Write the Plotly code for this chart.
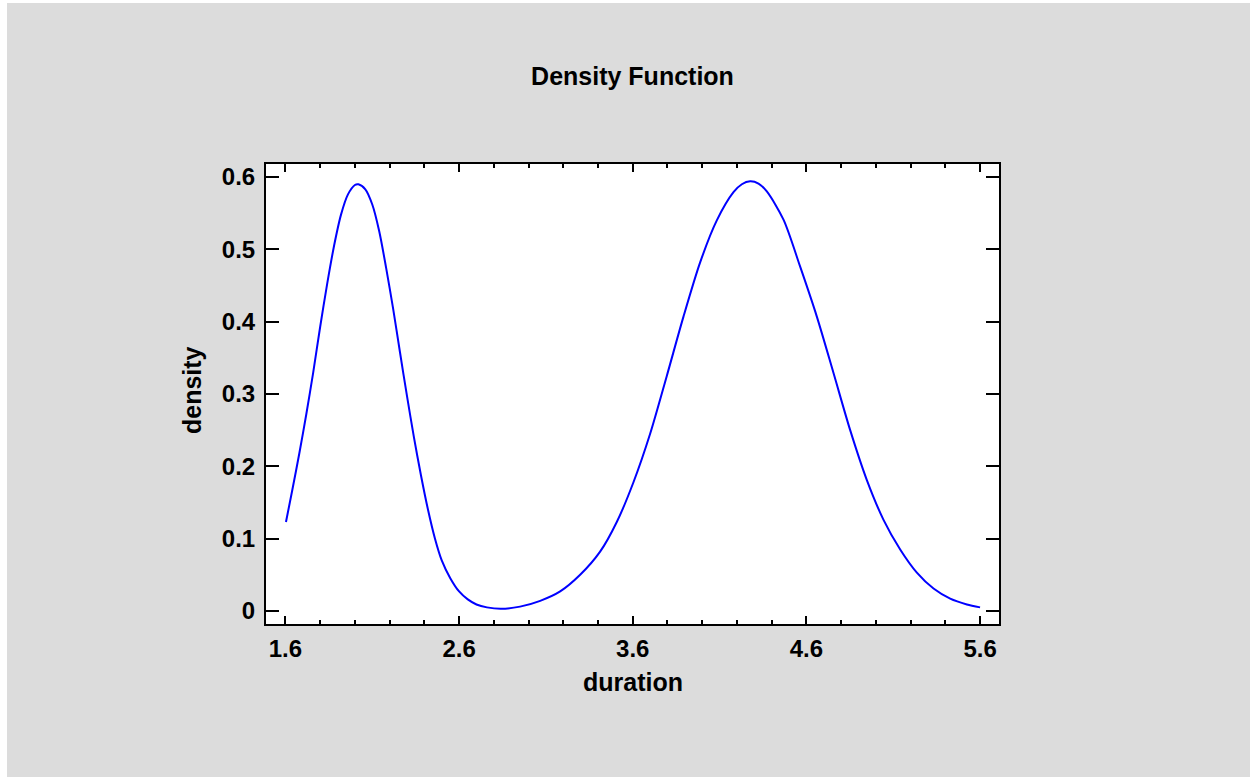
import plotly.graph_objects as go

# Density curve
duration = [1.603, 1.640, 1.680, 1.720, 1.760, 1.800, 1.840, 1.880, 1.920, 1.960,
            2.000, 2.020, 2.060, 2.100, 2.140, 2.180, 2.220, 2.260, 2.300, 2.340,
            2.380, 2.420, 2.460, 2.500, 2.550, 2.600, 2.650, 2.700, 2.760, 2.840,
            2.951, 3.067, 3.182, 3.297, 3.412, 3.508, 3.604, 3.700, 3.796, 3.892,
            3.988, 4.084, 4.180, 4.228, 4.276, 4.324, 4.372, 4.468, 4.564, 4.660,
            4.756, 4.852, 4.948, 5.044, 5.140, 5.236, 5.332, 5.428, 5.524, 5.600]
density = [0.123, 0.168, 0.218, 0.272, 0.330, 0.393, 0.452, 0.505, 0.548, 0.576,
           0.589, 0.590, 0.583, 0.562, 0.525, 0.474, 0.418, 0.357, 0.297, 0.240,
           0.188, 0.141, 0.101, 0.070, 0.045, 0.027, 0.016, 0.009, 0.005, 0.003,
           0.006, 0.014, 0.027, 0.050, 0.082, 0.123, 0.178, 0.245, 0.325, 0.407,
           0.482, 0.540, 0.579, 0.590, 0.594, 0.591, 0.580, 0.541, 0.476, 0.407,
           0.329, 0.250, 0.181, 0.126, 0.085, 0.053, 0.031, 0.017, 0.009, 0.005]

x_ticks = [1.6, 2.6, 3.6, 4.6, 5.6]
x_tick_labels = ["1.6", "2.6", "3.6", "4.6", "5.6"]
y_ticks = [0, 0.1, 0.2, 0.3, 0.4, 0.5, 0.6]
y_tick_labels = ["0", "0.1", "0.2", "0.3", "0.4", "0.5", "0.6"]

W, H = 1250, 777
L, R, T, B = 266, 999, 164, 624  # plot area in px
FONT = "Liberation Sans, Arial, sans-serif"

fig = go.Figure()
fig.add_trace(go.Scatter(
    x=duration, y=density, mode="lines",
    line=dict(color="#0000FF", width=2, shape="spline", smoothing=0.8),
    showlegend=False, hoverinfo="skip",
))

def px_to_paper_x(px):
    return (px - L) / (R - L)

def px_to_paper_y(py):
    return (B - py) / (B - T)

fig.update_layout(
    width=W, height=H,
    margin=dict(l=L, r=W - R, t=T, b=H - B, pad=0),
    paper_bgcolor="#DCDCDC",
    plot_bgcolor="#FFFFFF",
    font=dict(family=FONT, size=24, color="#000000"),
    title=dict(text="<b>Density Function</b>", x=0.5, xref="paper",
               y=1 - 76 / H, yref="container", xanchor="center", yanchor="middle",
               font=dict(family=FONT, size=25, color="#000000")),
    xaxis=dict(
        range=[1.488, 5.709], autorange=False,
        tickmode="array", tickvals=x_ticks, ticktext=["<b>%s</b>" % t for t in x_tick_labels],
        ticks="inside", ticklen=8, tickwidth=2, tickcolor="#000000",
        minor=dict(dtick=0.2, tick0=1.6, ticks="inside", ticklen=4, tickwidth=2,
                   tickcolor="#000000", showgrid=False),
        showline=True, linecolor="#000000", linewidth=2, mirror="ticks",
        showgrid=False, zeroline=False, ticklabelstandoff=2,
        tickfont=dict(family=FONT, size=24, color="#000000"),
    ),
    yaxis=dict(
        range=[-0.018, 0.618], autorange=False,
        tickmode="array", tickvals=y_ticks, ticktext=["<b>%s</b>" % t for t in y_tick_labels],
        ticks="inside", ticklen=13, tickwidth=2, tickcolor="#000000",
        showline=True, linecolor="#000000", linewidth=2, mirror="ticks",
        showgrid=False, zeroline=False, ticklabelstandoff=4,
        tickfont=dict(family=FONT, size=24, color="#000000"),
    ),
    annotations=[
        dict(text="<b>duration</b>", xref="paper", yref="paper",
             x=px_to_paper_x(632.5), y=px_to_paper_y(682), xanchor="center", yanchor="middle",
             showarrow=False, font=dict(family=FONT, size=25, color="#000000")),
        dict(text="<b>density</b>", xref="paper", yref="paper", textangle=-90,
             x=px_to_paper_x(192), y=px_to_paper_y(390), xanchor="center", yanchor="middle",
             showarrow=False, font=dict(family=FONT, size=25, color="#000000")),
    ],
    shapes=[
        dict(type="rect", xref="paper", yref="paper", layer="below",
             x0=px_to_paper_x(0), x1=px_to_paper_x(7), y0=px_to_paper_y(H), y1=px_to_paper_y(0),
             fillcolor="#FFFFFF", line=dict(width=0)),
        dict(type="rect", xref="paper", yref="paper", layer="below",
             x0=px_to_paper_x(0), x1=px_to_paper_x(W), y0=px_to_paper_y(3), y1=px_to_paper_y(0),
             fillcolor="#FFFFFF", line=dict(width=0)),
    ],
)

fig.write_html("out.html")
